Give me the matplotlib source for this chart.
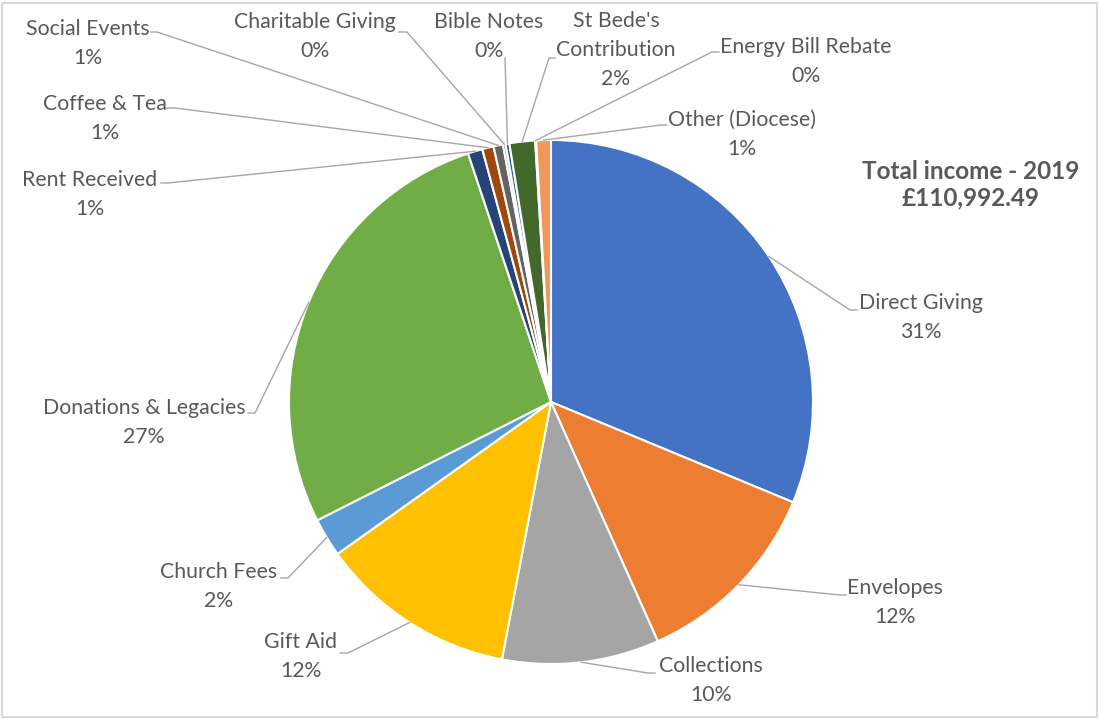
import matplotlib
matplotlib.use("Agg")
import matplotlib.pyplot as plt
import numpy as np
from matplotlib.patches import Rectangle

plt.rcParams['font.family'] = ['Lato', 'DejaVu Sans']

# income 2019 (GBP)
categories = ["Direct Giving", "Envelopes", "Collections", "Gift Aid", "Church Fees",
              "Donations & Legacies", "Rent Received", "Coffee & Tea", "Social Events",
              "Charitable Giving", "Bible Notes", "St Bede's\nContribution",
              "Energy Bill Rebate", "Other (Diocese)"]
amounts = [34700, 13400, 10750, 13500, 2650, 30350, 1000, 780, 650,
           180, 260, 1750, 70, 1000]
colors = ["#4472C4", "#ED7D31", "#A5A5A5", "#FFC000", "#5B9BD5", "#70AD47",
          "#264478", "#9E480E", "#636363", "#997300", "#255E91", "#43682B",
          "#698ED0", "#F1975A"]
title = "Total income - 2019\n£110,992.49"

# layout in pixels: label centre (x, y of first line), leader end, stub end
label_pos = [(921, 303), (895, 588), (711, 666), (301, 642), (219, 572),
             (144, 408), (90, 180), (105, 104), (88, 29), (315, 22),
             (489, 22), (616, 21), (806, 47), (742, 120)]
leader_end = [(850, 310), (840, 595), (648, 673), (348, 653), (288, 578),
              (255, 413), (168, 183), (175, 108), (157, 32), (407, 32),
              (505, 58), (549, 58), (712, 52), (661, 125)]
stub_end = [(857, 310), (846, 595), (655, 673), (340, 653), (281, 578),
            (248, 413), (161, 183), (166, 108), (151, 32), (399, 32),
            (505, 58), (555, 58), (719, 52), (667, 125)]

W, H = 1100, 719
CX, CY, R = 551, 402, 262


def px(x, y):
    return (x - CX) / R, (CY - y) / R


fig = plt.figure(figsize=(W / 100, H / 100), dpi=100)
ax = fig.add_axes([0, 0, 1, 1])
wedges, _ = ax.pie(amounts, colors=colors, startangle=90, counterclock=False,
                   radius=1, wedgeprops=dict(edgecolor="white", linewidth=1.5))
ax.set_xlim(-CX / R, (W - CX) / R)
ax.set_ylim(-(H - CY) / R, CY / R)
ax.set_aspect("equal")
ax.axis("off")

total = sum(amounts)
txt_col = "#595959"
line_col = "#A6A6A6"
fs = 15.3
for i, w in enumerate(wedges):
    ang = np.deg2rad((w.theta1 + w.theta2) / 2)
    ax0, ay0 = np.cos(ang), np.sin(ang)
    ex, ey = px(*leader_end[i])
    sx, sy = px(*stub_end[i])
    ax.plot([ax0, ex, sx], [ay0, ey, sy], color=line_col, lw=1, zorder=1)

    lines = categories[i].split("\n")
    lx, ly = label_pos[i]
    pct = "{:.0f}%".format(100 * amounts[i] / total)
    for j, t in enumerate(lines + [pct]):
        tx, ty = px(lx, ly + 29 * j)
        ax.text(tx, ty, t, ha="center", va="center", fontsize=fs, color=txt_col)

tx, ty = px(971, 185)
ax.text(tx, ty, title, ha="center", va="center", fontsize=17.5,
        fontweight="bold", color=txt_col, linespacing=1.2)

fig.patches.append(Rectangle((0.002, 0.003), 0.995, 0.993, transform=fig.transFigure,
                             fill=False, edgecolor="#D9D9D9", lw=1.5))

fig.savefig("out.png", dpi=100)
